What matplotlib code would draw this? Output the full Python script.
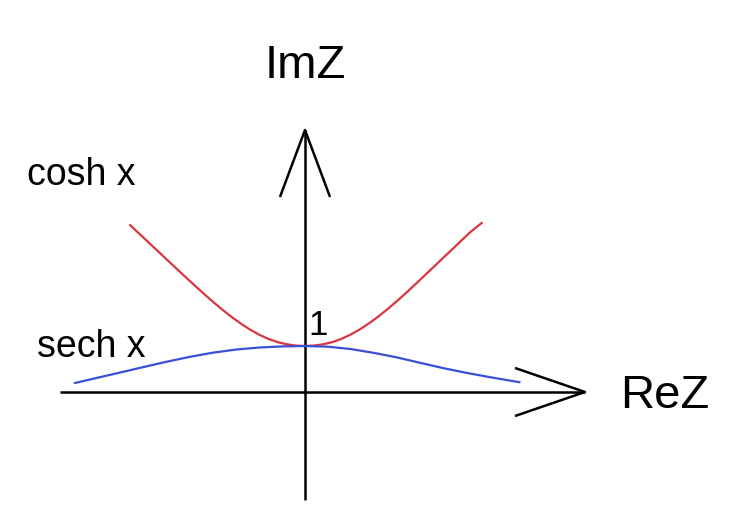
import matplotlib.pyplot as plt
import numpy as np

# points of the two hand-drawn curves
x_cosh = [-1.9, -1.8, -1.7, -1.6, -1.5, -1.4, -1.3, -1.2, -1.1, -1.0, -0.9, -0.8, -0.7,
          -0.6, -0.5, -0.4, -0.3, -0.2, -0.1, 0.0, 0.1, 0.2, 0.3, 0.4, 0.5, 0.6, 0.7,
          0.8, 0.9, 1.0, 1.1, 1.2, 1.3, 1.4, 1.5, 1.6, 1.7, 1.8, 1.92]
y_cosh = [3.627, 3.439, 3.251, 3.063, 2.875, 2.688, 2.502, 2.318, 2.137, 1.961, 1.793,
          1.635, 1.490, 1.360, 1.248, 1.156, 1.086, 1.038, 1.010, 1.000, 1.010, 1.038,
          1.086, 1.158, 1.252, 1.366, 1.498, 1.645, 1.806, 1.977, 2.157, 2.343, 2.532,
          2.722, 2.912, 3.102, 3.292, 3.482, 3.674]

x_sech = [-2.5, -2.25, -2.0, -1.75, -1.5, -1.25, -1.0, -0.75, -0.5, -0.25, 0.0,
          0.25, 0.5, 0.75, 1.0, 1.25, 1.5, 1.75, 2.0, 2.25, 2.33]
y_sech = [0.196, 0.312, 0.428, 0.545, 0.660, 0.765, 0.855, 0.923, 0.966, 0.991, 1.000,
          0.985, 0.933, 0.850, 0.752, 0.635, 0.520, 0.418, 0.326, 0.240, 0.214]

fig = plt.figure(figsize=(7.35, 5.18), dpi=100)
ax = fig.add_axes([0, 0, 1, 1])
ax.set_xlim(-305 / 92, 430 / 92)
ax.set_ylim(-126 / 46, 392 / 46)
ax.axis('off')

font = ['Liberation Sans', 'DejaVu Sans']
axis_kw = dict(color='black', lw=1.8, solid_capstyle='butt')

# axes with open arrowheads
ax.plot([-2.663, 3.043], [0, 0], **axis_kw)
ax.plot([2.283, 3.043, 2.283], [0.522, 0, -0.522], **axis_kw)
ax.plot([0, 0], [-2.348, 5.696], **axis_kw)
ax.plot([-0.272, 0, 0.272], [4.239, 5.696, 4.239], **axis_kw)

ax.plot(x_cosh, y_cosh, color='#d9363e', lw=1.6, solid_joinstyle='round')
ax.plot(x_sech, y_sech, color='#3b4fd6', lw=1.6, solid_joinstyle='round')

ax.text(0, 6.826, 'ImZ', fontsize=34, family=font, ha='center', va='baseline')
ax.text(3.424, -0.348, 'ReZ', fontsize=34, family=font, ha='left', va='baseline')
ax.text(-3.02, 4.50, 'cosh x', fontsize=27, family=font, ha='left', va='baseline')
ax.text(-2.913, 0.761, 'sech x', fontsize=27, family=font, ha='left', va='baseline')
ax.text(0.033, 1.239, '1', fontsize=25, family=font, ha='left', va='baseline')

fig.savefig('out.png', dpi=100)
